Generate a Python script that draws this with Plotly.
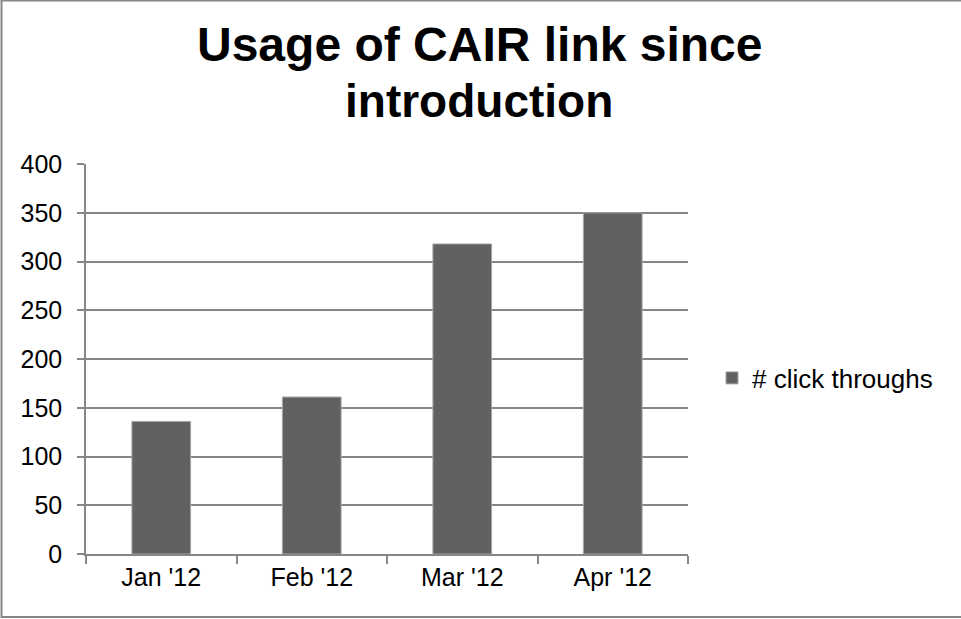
import plotly.graph_objects as go

categories = ["Jan '12", "Feb '12", "Mar '12", "Apr '12"]
clicks = [136, 161, 318, 350]
series_name = "# click throughs"
title_lines = ["Usage of CAIR link since", "introduction"]
y_ticks = [0, 50, 100, 150, 200, 250, 300, 350, 400]

W, H = 961, 619
L, R, T, B = 86, 688, 164, 554

fig = go.Figure()
fig.add_trace(go.Bar(
    x=categories, y=clicks, name=series_name,
    marker=dict(color="#616161", line=dict(color="#a6a6a6", width=1)),
    showlegend=True,
))

def px2x(px):
    return (px - L) / (R - L)

def py2y(py):
    return (B - py) / (B - T)

annotations = []
for line, cy, fs in zip(title_lines, [45, 101], [48, 46]):
    annotations.append(dict(text="<b>" + line + "</b>", xref="paper", yref="paper",
                            x=px2x(479), y=py2y(cy), xanchor="center", yanchor="middle",
                            showarrow=False, font=dict(size=fs, color="black")))

fig.update_layout(
    width=W, height=H,
    margin=dict(l=L, r=W - R, t=T, b=H - B, pad=0),
    paper_bgcolor="white", plot_bgcolor="white",
    font=dict(family="Liberation Sans, Arial", size=26, color="black"),
    annotations=annotations,
    bargap=0.61,
    showlegend=True,
    legend=dict(x=px2x(712), y=py2y(378), xanchor="left", yanchor="middle",
                font=dict(size=26), bgcolor="rgba(0,0,0,0)"),
    xaxis=dict(type="category", tickson="boundaries", ticks="outside", ticklen=8,
               tickcolor="#868686", tickwidth=1.5, showline=True, linecolor="#868686",
               linewidth=1.5, showgrid=False, tickfont=dict(size=25), fixedrange=True),
    yaxis=dict(range=[0, 400], tickvals=y_ticks, ticks="outside", ticklen=7,
               tickcolor="#868686", tickwidth=1.5, showline=True, linecolor="#868686",
               linewidth=1.5, showgrid=True, gridcolor="#868686", gridwidth=1.5,
               zeroline=False, tickfont=dict(size=25), ticklabelstandoff=10),
    shapes=[dict(type="rect", xref="paper", yref="paper",
                 x0=px2x(1.5), x1=px2x(965), y0=py2y(617), y1=py2y(0.5),
                 line=dict(color="#868686", width=2), fillcolor="rgba(0,0,0,0)",
                 layer="above")],
)

fig.write_html("out.html", config={"displayModeBar": False},
               post_script="document.body.style.margin='0px';")
